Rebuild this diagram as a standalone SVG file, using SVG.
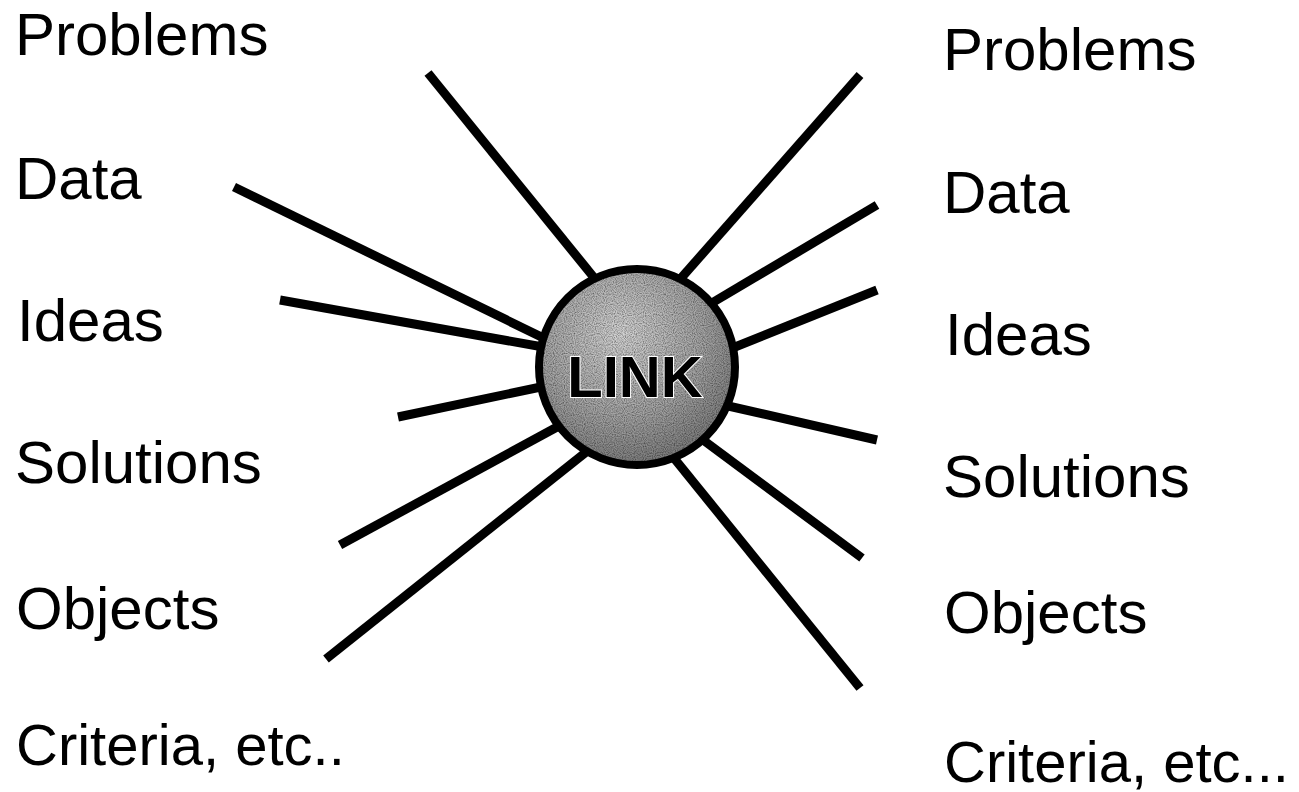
<svg xmlns="http://www.w3.org/2000/svg" width="1299" height="792" viewBox="0 0 1299 792">
  <defs>
    <radialGradient id="ballGrad" cx="0.42" cy="0.33" r="0.72">
      <stop offset="0" stop-color="#d4d4d4"/>
      <stop offset="0.6" stop-color="#a2a2a2"/>
      <stop offset="1" stop-color="#757575"/>
    </radialGradient>
    <filter id="grain" x="0" y="0" width="100%" height="100%">
      <feTurbulence type="fractalNoise" baseFrequency="0.9" numOctaves="1" seed="3" result="noise"/>
      <feColorMatrix in="noise" type="matrix" values="0 0 0 0 0  0 0 0 0 0  0 0 0 0 0  0 0 0 1.6 -0.55" result="speck"/>
      <feComposite in="speck" in2="SourceGraphic" operator="in" result="speckIn"/>
      <feMerge><feMergeNode in="SourceGraphic"/><feMergeNode in="speckIn"/></feMerge>
    </filter>
  </defs>
  <style>
    .label { font-family: "Liberation Sans", Arial, Helvetica, sans-serif; font-size: 60px; fill: #000; }
    .small { font-size: 58px; }
    .spoke { stroke: #000; stroke-width: 9; stroke-linecap: butt; fill: none; }
    .hubtext { font-family: "Liberation Sans", Arial, Helvetica, sans-serif; font-size: 58px; font-weight: bold; fill: #000; stroke: #ffffff; stroke-width: 2; paint-order: stroke; }
  </style>
  <rect x="0" y="0" width="1299" height="792" fill="#ffffff"/>

  <g id="connectors">
    <line class="spoke" x1="428" y1="73" x2="600" y2="285"/>
    <line class="spoke" x1="234" y1="187" x2="560" y2="346"/>
    <line class="spoke" x1="280" y1="300" x2="560" y2="350"/>
    <line class="spoke" x1="398" y1="417" x2="560" y2="383"/>
    <line class="spoke" x1="340" y1="545" x2="570" y2="420"/>
    <line class="spoke" x1="326" y1="659" x2="595" y2="445"/>
    <line class="spoke" x1="860" y1="75" x2="675" y2="285"/>
    <line class="spoke" x1="877" y1="205" x2="700" y2="310"/>
    <line class="spoke" x1="877" y1="290" x2="715" y2="355"/>
    <line class="spoke" x1="877" y1="440" x2="715" y2="403"/>
    <line class="spoke" x1="862" y1="558" x2="695" y2="434"/>
    <line class="spoke" x1="860" y1="688" x2="665" y2="447"/>
  </g>

  <g id="hub">
    <circle cx="637" cy="367" r="98" fill="url(#ballGrad)" filter="url(#grain)"/>
    <circle cx="637" cy="367" r="98" fill="none" stroke="#000" stroke-width="8"/>
    <text class="hubtext" x="635" y="397" text-anchor="middle">LINK</text>
  </g>

  <g id="left-problems"><text class="label" x="15" y="55">Problems</text></g>
  <g id="left-data"><text class="label" x="15" y="199">Data</text></g>
  <g id="left-ideas"><text class="label" x="17" y="341">Ideas</text></g>
  <g id="left-solutions"><text class="label" x="15" y="483">Solutions</text></g>
  <g id="left-objects"><text class="label" x="16" y="629">Objects</text></g>
  <g id="left-criteria"><text class="label small" x="16" y="765">Criteria, etc..</text></g>

  <g id="right-problems"><text class="label" x="943" y="70">Problems</text></g>
  <g id="right-data"><text class="label" x="943" y="213">Data</text></g>
  <g id="right-ideas"><text class="label" x="945" y="355">Ideas</text></g>
  <g id="right-solutions"><text class="label" x="943" y="497">Solutions</text></g>
  <g id="right-objects"><text class="label" x="944" y="633">Objects</text></g>
  <g id="right-criteria"><text class="label small" x="944" y="782">Criteria, etc...</text></g>
</svg>
